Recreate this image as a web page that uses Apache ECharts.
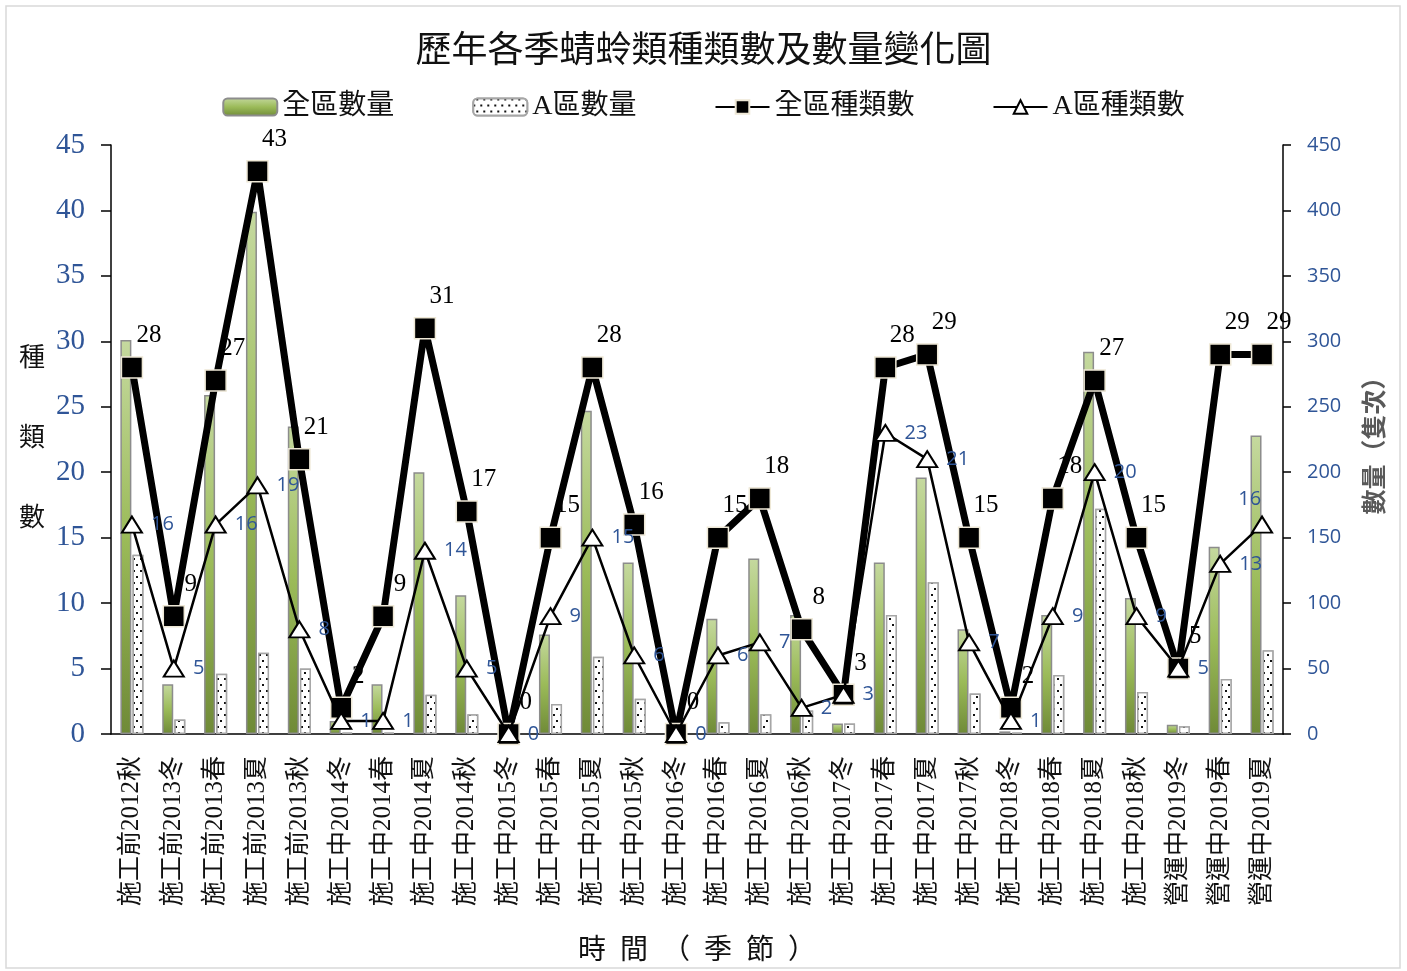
<!DOCTYPE html>
<html>
<head>
<meta charset="utf-8">
<script src="https://cdn.jsdelivr.net/npm/echarts@6/dist/echarts.min.js"></script>
<style>
html,body{margin:0;padding:0;background:#fff;}
#main{width:1407px;height:971px;}
</style>
</head>
<body>
<div id="main"></div>
<script>
const categories = ['施工前2012秋','施工前2013冬','施工前2013春','施工前2013夏','施工前2013秋',
  '施工中2014冬','施工中2014春','施工中2014夏','施工中2014秋',
  '施工中2015冬','施工中2015春','施工中2015夏','施工中2015秋',
  '施工中2016冬','施工中2016春','施工中2016夏','施工中2016秋',
  '施工中2017冬','施工中2017春','施工中2017夏','施工中2017秋',
  '施工中2018冬','施工中2018春','施工中2018夏','施工中2018秋',
  '營運中2019冬','營運中2019春','營運中2019夏'];
const allCount = [301,38,259,399,235,10,38,200,106,0,76,247,131,0,88,134,91,8,131,196,80,2,91,292,104,7,143,228];
const aCount   = [137,11,46,62,50,1,1,30,15,0,23,59,27,0,9,15,18,8,91,116,31,1,45,172,32,6,42,64];
const allSpecies = [28,9,27,43,21,2,9,31,17,0,15,28,16,0,15,18,8,3,28,29,15,2,18,27,15,5,29,29];
const aSpecies   = [16,5,16,19,8,1,1,14,5,0,9,15,6,0,6,7,2,3,23,21,7,1,9,20,9,5,13,16];
const leftTicks = {min:0,max:45,interval:5};
const rightTicks = {min:0,max:450,interval:50};

const CJK = "'Liberation Serif','Noto Sans CJK TC'";
const chart = echarts.init(document.getElementById('main'));
const blue = '#2f5597';
const lastIndex = categories.length - 1;
chart.setOption({
  backgroundColor:'#fff',
  animation:false,
  title:{
    text:'歷年各季蜻蛉類種類數及數量變化圖',
    left:'center', top:30,
    textStyle:{fontFamily:CJK,fontSize:36,fontWeight:'normal',color:'#111'}
  },
  graphic:[{type:'rect',shape:{x:6,y:6,width:1394,height:962},style:{fill:'none',stroke:'#d9d9d9',lineWidth:1.5},silent:true}],
  legend:{
    top:88, left:'center', itemGap:78, itemWidth:54, itemHeight:17,
    textStyle:{fontFamily:CJK,fontSize:28,color:'#111'},
    data:['全區數量','A區數量','全區種類數','A區種類數']
  },
  grid:{left:111,right:124,top:145,bottom:232},
  xAxis:{
    type:'category', data:categories,
    axisLine:{lineStyle:{color:'#000',width:1.5}},
    axisTick:{show:false},
    axisLabel:{rotate:90,interval:0,fontFamily:CJK,fontSize:25,color:'#111',margin:22},
    name:'時  間  （  季  節  ）', nameLocation:'middle', nameGap:204,
    nameTextStyle:{fontFamily:CJK,fontSize:28,color:'#111'}
  },
  yAxis:[{
    type:'value', min:leftTicks.min, max:leftTicks.max, interval:leftTicks.interval,
    splitLine:{show:false},
    axisLine:{show:true,lineStyle:{color:'#000',width:1.5}},
    axisTick:{show:true,inside:false,length:10,lineStyle:{color:'#000',width:1.5}},
    axisLabel:{fontFamily:"'Liberation Serif'",fontSize:29,color:blue,margin:26},
    name:'種\n類\n數', nameLocation:'middle', nameRotate:0, nameGap:66,
    nameTextStyle:{fontFamily:CJK,fontSize:26,color:'#111',lineHeight:80,padding:[0,0,62,0]}
  },{
    type:'value', min:rightTicks.min, max:rightTicks.max, interval:rightTicks.interval,
    position:'right',
    splitLine:{show:false},
    axisLine:{show:true,lineStyle:{color:'#000',width:1.5}},
    axisTick:{show:true,length:8,lineStyle:{color:'#000',width:1.5}},
    axisLabel:{fontFamily:"'Open Sans','Liberation Sans'",fontSize:20,color:blue,margin:24},
    name:'數量（隻次）', nameLocation:'middle', nameRotate:90, nameGap:78,
    nameTextStyle:{fontFamily:"'Noto Sans CJK TC'",fontSize:25,fontWeight:'bold',color:'#595959'}
  }],
  series:[{
    name:'全區數量', type:'bar', yAxisIndex:1, data:allCount,
    barWidth:11, barGap:'10%',
    itemStyle:{
      color:new echarts.graphic.LinearGradient(0,0,0,1,[{offset:0,color:'#c5d99f'},{offset:0.5,color:'#9bbb59'},{offset:1,color:'#6f8a37'}]),
      borderColor:'#8c8c8c', borderWidth:1.5
    },
    z:1
  },{
    name:'A區數量', type:'bar', yAxisIndex:1, data:aCount,
    barWidth:11,
    itemStyle:{
      color:'#fff', borderColor:'#a6a6a6', borderWidth:1.5,
      decal:{symbol:'rect',symbolSize:1,color:'#111',backgroundColor:'#fff',dashArrayX:[[2,5],[0,3,2,2]],dashArrayY:[2,4],rotation:0}
    },
    z:1
  },{
    name:'全區種類數', type:'line', yAxisIndex:0, data:allSpecies,
    symbol:'rect', symbolSize:21,
    lineStyle:{color:'#000',width:7},
    itemStyle:{color:'#000',borderColor:'#eee8d6',borderWidth:1.5},
    label:{show:true,position:'top',distance:8,offset:[17,0],fontFamily:"'Liberation Serif'",fontSize:25,color:'#000'},
    z:3
  },{
    name:'A區種類數', type:'line', yAxisIndex:0, data:aSpecies,
    symbol:'triangle', symbolSize:[20,16],
    lineStyle:{color:'#000',width:2.5},
    itemStyle:{color:'#fff',borderColor:'#000',borderWidth:2},
    label:{show:true,position:'right',distance:8,offset:[0,10],fontFamily:"'Open Sans','Liberation Sans'",fontSize:20,color:blue},
    labelLayout:function(p){ return p.dataIndex === lastIndex ? {dx:-43, dy:-25} : {}; },
    z:4
  }]
});
</script>
</body>
</html>
